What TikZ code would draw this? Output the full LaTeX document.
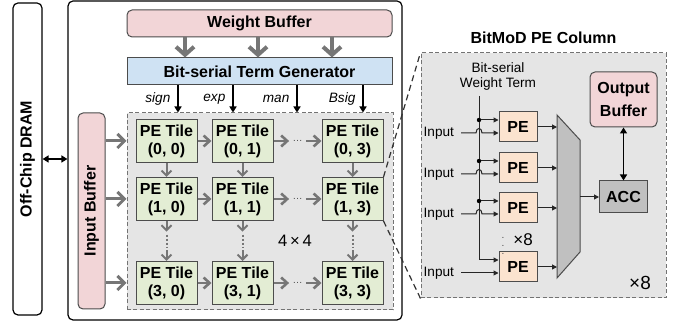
\documentclass[tikz,border=0pt]{standalone}
\usepackage{fontspec}
\setmainfont{Liberation Sans}
\usetikzlibrary{arrows.meta,calc}

\definecolor{bufpink}{RGB}{242,213,215}
\definecolor{termblue}{RGB}{207,226,243}
\definecolor{tilegreen}{RGB}{227,237,212}
\definecolor{pepeach}{RGB}{251,227,207}
\definecolor{arrgray}{RGB}{229,229,229}
\definecolor{muxgray}{RGB}{192,192,192}
\definecolor{wiregray}{RGB}{118,118,118}

\tikzset{
  boldlbl/.style={font=\fontsize{8}{9}\selectfont\bfseries},
  thinlbl/.style={font=\fontsize{6.8}{7.6}\selectfont},
  fieldlbl/.style={font=\fontsize{6.8}{7.6}\selectfont\itshape},
  framebox/.style={draw=black, line width=0.6pt, fill=white, rounded corners=2.5pt, inner sep=0pt},
  blockbox/.style={draw=black!70, line width=0.5pt, inner sep=0pt, boldlbl, align=center},
  bufbox/.style={blockbox, fill=bufpink, rounded corners=2.5pt},
  termbox/.style={blockbox, fill=termblue},
  tilebox/.style={blockbox, fill=tilegreen, minimum width=30.5pt, minimum height=21.5pt},
  pebox/.style={blockbox, fill=pepeach, minimum width=19pt, minimum height=15pt},
  accbox/.style={blockbox, fill=muxgray, minimum width=24pt, minimum height=16pt},
  dashbox/.style={draw=black!55, fill=arrgray, line width=0.5pt, dash pattern=on 2pt off 1.2pt, inner sep=0pt},
  gap/.style={inner sep=0pt, minimum width=0pt, minimum height=9pt},
  wbarrow/.style={draw=wiregray, line width=2pt, -{Straight Barb[length=4pt,width=9pt]}},
  inarrow/.style={draw=wiregray, line width=1.5pt, -{Straight Barb[length=3.5pt,width=7pt]}},
  tarrow/.style={draw=wiregray, line width=1.3pt, -{Straight Barb[length=3pt,width=5.5pt]}},
  varrow/.style={draw=wiregray, line width=1pt, -{Straight Barb[length=2.5pt,width=5pt]}},
  fieldarrow/.style={draw=black, line width=1pt, -{Triangle[length=3pt,width=3.5pt]}},
  wirearrow/.style={draw=black!85, line width=0.5pt, -{Triangle[length=2.5pt,width=2.5pt]}},
  linkarrow/.style={draw=black, line width=0.9pt, {Triangle[length=3pt,width=3.5pt]}-{Triangle[length=3pt,width=3.5pt]}},
  magline/.style={draw=black!80, line width=0.6pt, dash pattern=on 3pt off 2pt},
}

\begin{document}
\begin{tikzpicture}[x=0.5pt,y=-0.5pt]

  \useasboundingbox (0,0) rectangle (689,324);

  \node[framebox, rotate=90, minimum width=156pt, minimum height=14.5pt, boldlbl] (dram) at (27.5,159) {Off-Chip DRAM};
  \node[framebox, minimum width=167pt, minimum height=159.5pt] (chip) at (235,160.5) {};
  \draw[linkarrow] (dram.south) -- (dram.south -| chip.west);

  \node[bufbox, minimum width=132.5pt, minimum height=13.5pt] (wbuf) at (259.5,23.5) {Weight Buffer};
  \node[termbox, minimum width=132.5pt, minimum height=13.5pt] (btg) at (259.5,71.5) {Bit-serial Term Generator};
  \foreach \dx in {-37.25,-0.75,36.25}
    \draw[wbarrow] ([xshift=\dx pt]wbuf.south) -- ([xshift=\dx pt]btg.north);

  \node[dashbox, minimum width=133pt, minimum height=98.5pt] (arr) at (260,211.5) {};
  \node[bufbox, rotate=90, minimum width=98pt, minimum height=13.5pt] (ibuf) at (91.5,211) {Input Buffer};

  \foreach \i/\x/\fname in {1/178/sign,2/233/exp,3/297/man,4/363/Bsig} {
    \coordinate (f\i) at (\x,0);
    \draw[fieldarrow] (btg.south -| f\i) -- (arr.north -| f\i)
      node[midway, left, fieldlbl] {\fname};
  }

  \foreach \rw/\ty in {0/141,1/199,3/283}
    \foreach \cl/\tx in {0/166.5,1/242.5,3/352.5}
      \node[tilebox] (t\rw\cl) at (\tx,\ty) {PE Tile\\(\rw, \cl)};

  \foreach \rw in {0,1,3} {
    \draw[inarrow] (ibuf.south |- t\rw0) -- (arr.west |- t\rw0);
    \draw[tarrow] (t\rw0) -- (t\rw1);
    \node[inner sep=1.5pt, text=black!70, font=\fontsize{5}{5}\selectfont] (h\rw) at ($(t\rw1)!0.5!(t\rw3)$) {…};
    \draw[tarrow] (t\rw1) -- (h\rw);
    \draw[tarrow] (h\rw) -- (t\rw3);
  }

  \foreach \cl in {0,1,3} {
    \draw[varrow] (t0\cl) -- (t1\cl);
    \node[gap] (v\cl) at ($(t1\cl)!0.5!(t3\cl)$) {};
    \draw[varrow] (t1\cl) -- (v\cl);
    \draw[draw=wiregray, line width=1pt, dash pattern=on 1pt off 1pt] ([yshift=-1.5pt]v\cl.north) -- ([yshift=1.5pt]v\cl.south);
    \draw[varrow] (v\cl) -- (t3\cl);
  }
  \node[font=\fontsize{8.3}{9}\selectfont] (dim) at (295,241) {4\,×\,4};

  \node[dashbox, minimum width=122.5pt, minimum height=122.5pt] (col) at (543.5,175.5) {};
  \draw[magline] (t13.north east) -- (col.north west);
  \draw[magline] (t13.south east) -- (col.south west);
  \node[boldlbl] (coltitle) at (543.5,38) {BitMoD PE Column};
  \node[thinlbl, align=center] (wterm) at (498,76.5) {Bit-serial\\Weight Term};

  \coordinate (wtop) at (479,96);
  \coordinate (inx) at (461,0);
  \coordinate (mxl) at (557,0);
  \coordinate (mxr) at (580,0);
  \foreach \i/\y in {1/127,2/168,3/208,4/267} {
    \node[pebox] (pe\i) at (518,\y) {PE};
    \coordinate (b\i) at ([yshift=3.5pt]pe\i.west);
    \coordinate (c\i) at ([yshift=-3pt]pe\i.west);
    \node[thinlbl, anchor=east] (in\i) at (c\i -| inx) {Input};
    \draw[wirearrow] (pe\i.east) -- (pe\i.east -| mxl);
  }
  \draw[wirearrow] (wtop) -- (wtop |- b4) -- (b4);
  \foreach \i in {1,2,3} {
    \draw[wirearrow] (wtop |- b\i) -- (b\i);
    \fill (wtop |- b\i) circle (1.1pt);
    \coordinate (j\i) at ($(wtop |- c\i)+(-3,0)$);
    \coordinate (k\i) at ($(wtop |- c\i)+(3,0)$);
    \draw[wirearrow] (in\i.east) -- (j\i) .. controls ([yshift=3pt]j\i) and ([yshift=3pt]k\i) .. (k\i) -- (c\i);
  }
  \draw[wirearrow] (in4.east) -- (c4);

  \draw[draw=black!70, fill=muxgray, line width=0.5pt] (557,115) -- (580,140) -- (580,252) -- (557,278) -- cycle;
  \node[accbox] (acc) at (623.5,197) {ACC};
  \draw[wirearrow] (acc.west -| mxr) -- (acc.west);
  \node[bufbox, minimum width=33.5pt, minimum height=27.5pt, font=\fontsize{8}{11}\selectfont\bfseries] (obuf) at (623.5,99.5) {Output\\Buffer};
  \draw[linkarrow] (obuf) -- (acc);

  \node[inner sep=0pt, text=black!70, font=\fontsize{5}{5}\selectfont] (pedots) at (503,240) {$\vdots$};
  \node[inner sep=0pt, anchor=west, font=\fontsize{8.5}{9}\selectfont] (perep) at (513,240) {×8};
  \node[font=\fontsize{9.5}{10}\selectfont] (colrep) at (640,283) {×8};

\end{tikzpicture}
\end{document}
